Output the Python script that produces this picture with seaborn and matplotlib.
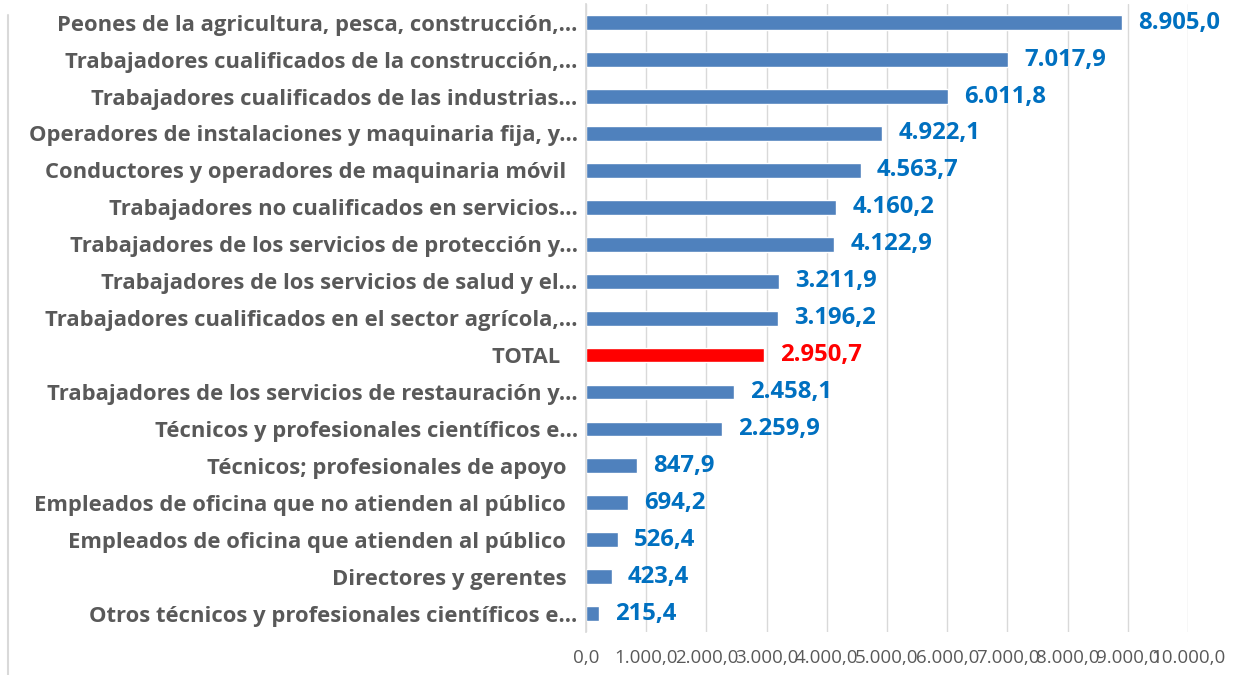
import matplotlib
matplotlib.use("Agg")
import matplotlib.pyplot as plt
from matplotlib.lines import Line2D
import seaborn as sns
import pandas as pd

categories = [
    "Peones de la agricultura, pesca, construcción,...",
    "Trabajadores cualificados de la construcción,...",
    "Trabajadores cualificados de las industrias...",
    "Operadores de instalaciones y maquinaria fija, y...",
    "Conductores y operadores de maquinaria móvil  ",
    "Trabajadores no cualificados en servicios...",
    "Trabajadores de los servicios de protección y...",
    "Trabajadores de los servicios de salud y el...",
    "Trabajadores cualificados en el sector agrícola,...",
    "TOTAL   ",
    "Trabajadores de los servicios de restauración y...",
    "Técnicos y profesionales científicos e...",
    "Técnicos; profesionales de apoyo  ",
    "Empleados de oficina que no atienden al público  ",
    "Empleados de oficina que atienden al público  ",
    "Directores y gerentes  ",
    "Otros técnicos y profesionales científicos e...",
]
values = [8905.0, 7017.9, 6011.8, 4922.1, 4563.7, 4160.2, 4122.9, 3211.9,
          3196.2, 2950.7, 2458.1, 2259.9, 847.9, 694.2, 526.4, 423.4, 215.4]
highlight = "TOTAL   "
tick_values = [0, 1000, 2000, 3000, 4000, 5000, 6000, 7000, 8000, 9000, 10000]

BLUE = "#4F81BD"
RED = "#FF0000"
LABEL_BLUE = "#0070C0"
GRAY = "#595959"


def fmt(v):
    s = f"{v:,.1f}"
    return s.replace(",", "X").replace(".", ",").replace("X", ".")


sns.set_theme(style="white")
plt.rcParams["font.family"] = ["Open Sans", "DejaVu Sans"]

df = pd.DataFrame({"cat": categories, "val": values})
palette = {c: (RED if c == highlight else BLUE) for c in categories}

fig = plt.figure(figsize=(12.34, 6.75), dpi=100)
ax = fig.add_axes([0.4749, 0.0637, 0.4878, 0.930])
sns.barplot(data=df, y="cat", x="val", hue="cat", palette=palette,
            orient="h", width=0.4, legend=False, ax=ax, saturation=1)

ax.set_xlim(0, 10000)
ax.set_ylim(len(categories) - 0.5, -0.5)
ax.set_xticks(tick_values)
ax.set_xticklabels([fmt(t) for t in tick_values], fontsize=13.5, color=GRAY)
ax.tick_params(axis="x", length=0, pad=12)
ax.tick_params(axis="y", length=0, pad=6)
for lbl in ax.get_yticklabels():
    lbl.set_fontweight("bold")
    lbl.set_fontsize(15.8)
    lbl.set_color(GRAY)
ax.set_xlabel("")
ax.set_ylabel("")
ax.grid(axis="x", color="#D9D9D9", linewidth=1)
ax.set_axisbelow(True)
for s in ["top", "right", "bottom"]:
    ax.spines[s].set_visible(False)
ax.spines["left"].set_color("#D9D9D9")

for i, (c, v) in enumerate(zip(categories, values)):
    ax.annotate(fmt(v), xy=(v, i), xytext=(16, 0), textcoords="offset pixels",
                va="center", ha="left", fontsize=17.2, fontweight="bold",
                color=(RED if c == highlight else LABEL_BLUE))

fig.add_artist(Line2D([7.5 / 1234, 7.5 / 1234], [0, 1 - 15 / 675],
                      transform=fig.transFigure, color="#D9D9D9", linewidth=1.5))

fig.savefig("out.png", dpi=100)
